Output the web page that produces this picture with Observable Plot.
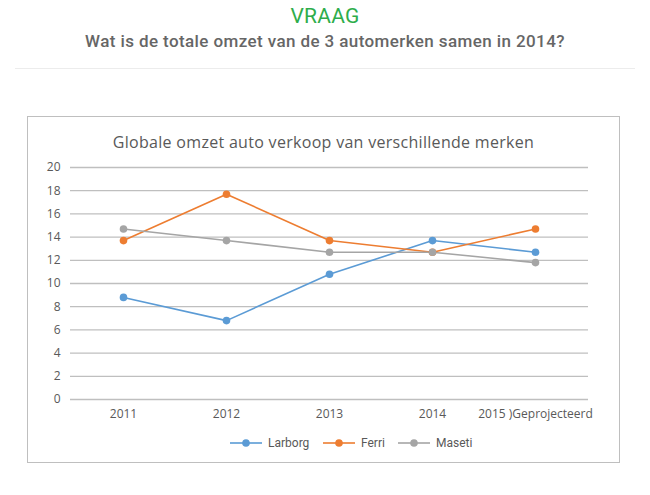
<!DOCTYPE html>
<html>
<head>
<meta charset="utf-8">
<script src="https://cdn.jsdelivr.net/npm/d3@7"></script>
<script src="https://cdn.jsdelivr.net/npm/@observablehq/plot@0.6"></script>
<style>
  html, body { margin: 0; padding: 0; background: #fff; }
  body { width: 650px; height: 495px; position: relative; overflow: hidden; font-family: Roboto, "Open Sans", sans-serif; }
  #head1 { position: absolute; top: 4px; left: 0; width: 650px; text-align: center; color: #2ead4b; font-size: 21px; font-family: Roboto, sans-serif; letter-spacing: 0.2px; }
  #head2 { position: absolute; top: 31px; left: 0; width: 650px; text-align: center; color: #666; font-size: 17px; font-weight: 500; font-family: Roboto, sans-serif; letter-spacing: 0.4px; }
  #sep { position: absolute; top: 68px; left: 15px; width: 620px; height: 1px; background: #ececec; }
  #box { position: absolute; left: 27px; top: 116px; width: 591px; height: 345px; border: 1px solid #bfbfbf; }
  #ctitle { position: absolute; top: 14px; left: 0; width: 100%; text-align: center; color: #595959; font-size: 16px; font-family: "Open Sans", sans-serif; letter-spacing: 0.3px; }
  #plot { position: absolute; left: 0; top: 33px; }
  #legend { position: absolute; top: 317px; left: 0; width: 100%; height: 18px; }
  .li { position: absolute; top: 0; height: 18px; font-size: 12px; color: #595959; display: flex; align-items: center; }
  .li svg { margin-right: 6px; }
</style>
</head>
<body>
<div id="head1">VRAAG</div>
<div id="head2">Wat is de totale omzet van de 3 automerken samen in 2014?</div>
<div id="sep"></div>
<div id="box">
  <div id="ctitle">Globale omzet auto verkoop van verschillende merken</div>
  <div id="plot"></div>
  <div id="legend"></div>
</div>
<script>
const years = ["2011", "2012", "2013", "2014", "2015 )Geprojecteerd"];
const seriesNames = ["Larborg", "Ferri", "Maseti"];
const colors = ["#5b9bd5", "#ed7d31", "#a5a5a5"];
const larborg = [8.8, 6.8, 10.8, 13.7, 12.7];
const ferri = [13.7, 17.7, 13.7, 12.7, 14.7];
const maseti = [14.7, 13.7, 12.7, 12.7, 11.8];
const yTicks = [0, 2, 4, 6, 8, 10, 12, 14, 16, 18, 20];

const allValues = [larborg, ferri, maseti];
const data = [];
seriesNames.forEach((s, i) => {
  years.forEach((y, j) => data.push({ series: s, year: y, value: allValues[i][j] }));
});

const chart = Plot.plot({
  width: 591,
  height: 280,
  marginLeft: 42,
  marginRight: 31,
  marginTop: 17,
  marginBottom: 31,
  style: { fontFamily: "'Open Sans', sans-serif", fontSize: "12px", color: "#595959", background: "transparent" },
  x: { type: "point", domain: years, padding: 0.5, label: null, tickSize: 0, tickPadding: 10 },
  y: { domain: [0, 20], ticks: yTicks, label: null, tickSize: 0, tickPadding: 10, tickFormat: d => String(d) },
  color: { domain: seriesNames, range: colors },
  marks: [
    Plot.ruleY(yTicks, { stroke: "#bfbfbf", strokeWidth: 1.3 }),
    Plot.line(data, { x: "year", y: "value", z: "series", stroke: "series", strokeWidth: 1.6 }),
    Plot.dot(data, { x: "year", y: "value", fill: "series", r: 3.8 })
  ]
});
document.getElementById("plot").appendChild(chart);

// legend
const legendX = [202, 295, 370];
const leg = document.getElementById("legend");
seriesNames.forEach((s, i) => {
  const d = document.createElement("div");
  d.className = "li";
  d.style.left = legendX[i] + "px";
  d.innerHTML = `<svg width="32" height="10"><line x1="0" y1="5" x2="32" y2="5" stroke="${colors[i]}" stroke-width="1.6"/><circle cx="16" cy="5" r="3.8" fill="${colors[i]}"/></svg>${s}`;
  leg.appendChild(d);
});
</script>
</body>
</html>
